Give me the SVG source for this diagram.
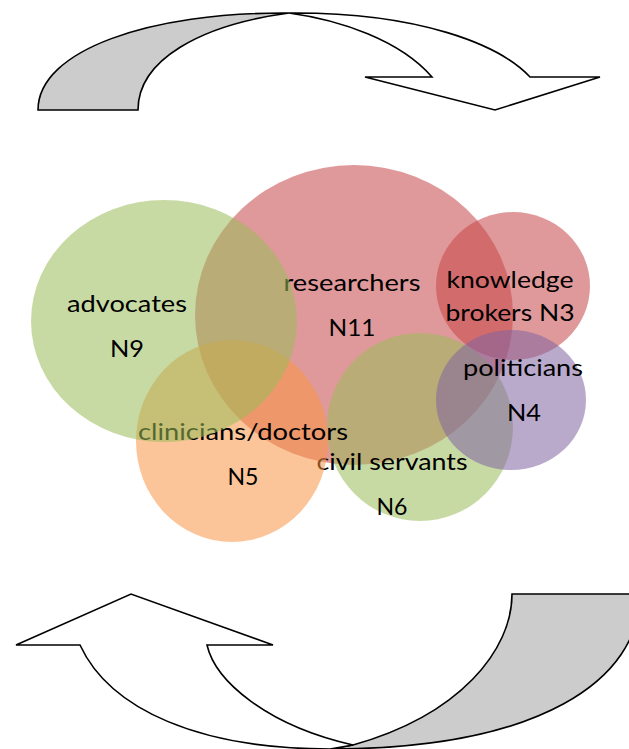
<svg xmlns="http://www.w3.org/2000/svg" width="629" height="749" viewBox="0 0 629 749">
<style>
.arr{stroke:#000;stroke-width:1.6;stroke-linejoin:miter}
.back{fill:#cccccc}
.front{fill:#ffffff}
.c{opacity:0.55}
.red{fill:#c74647}
.grn{fill:#9bbb59}
.org{fill:#f79646}
.pur{fill:#8064a2}
.t{font-family:Lato,"Liberation Sans",sans-serif;font-size:23px;fill:#000;text-anchor:middle}
</style>
<rect width="629" height="749" fill="#fff"/>
<g id="connectors">
  <g id="arrow-top">
    <path class="arr back" d="M38,110 C38,50 150,12 289,13 C200,25 138,60 138,110 Z"/>
    <path class="arr front" d="M289,13 C420,12 500,45 530,77 L600,77 L495,110 L365,77 L432,77 C400,40 340,20 289,13 Z"/>
  </g>
  <g id="arrow-bottom">
    <path class="arr back" d="M512,594 L640,594 C640,680 540,749 330,749 L353,745 C460,715 512,650 512,594 Z"/>
    <path class="arr front" d="M330,749 C200,749 110,710 80,645 L16,645 L131,594 L273,645 L207,645 C215,680 265,725 353,745 Z"/>
  </g>
</g>
<g id="researchers">
  <ellipse class="c red" cx="354" cy="315" rx="159" ry="150"/>
  <text class="t" x="352" y="291" textLength="137" lengthAdjust="spacingAndGlyphs">researchers</text>
  <text class="t" x="352" y="336" textLength="47" lengthAdjust="spacingAndGlyphs">N11</text>
</g>
<g id="knowledge-brokers">
  <ellipse class="c red" cx="513" cy="286" rx="77" ry="74"/>
  <text class="t" x="510" y="288" textLength="127" lengthAdjust="spacingAndGlyphs">knowledge</text>
  <text class="t" x="510" y="321" textLength="129" lengthAdjust="spacingAndGlyphs">brokers N3</text>
</g>
<g id="civil-servants">
  <ellipse class="c grn" cx="420" cy="427" rx="93" ry="94"/>
  <text class="t" x="392" y="470" textLength="151" lengthAdjust="spacingAndGlyphs">civil servants</text>
  <text class="t" x="392" y="515" textLength="31" lengthAdjust="spacingAndGlyphs">N6</text>
</g>
<g id="politicians">
  <ellipse class="c pur" cx="511" cy="400" rx="75" ry="70"/>
  <text class="t" x="523" y="376" textLength="120" lengthAdjust="spacingAndGlyphs">politicians</text>
  <text class="t" x="524" y="421" textLength="34" lengthAdjust="spacingAndGlyphs">N4</text>
</g>
<g id="clinicians-doctors">
  <ellipse class="c org" cx="232" cy="441" rx="96" ry="101"/>
  <text class="t" x="243" y="440" textLength="210" lengthAdjust="spacingAndGlyphs">clinicians/doctors</text>
  <text class="t" x="243" y="485" textLength="31" lengthAdjust="spacingAndGlyphs">N5</text>
</g>
<g id="advocates">
  <ellipse class="c grn" cx="164" cy="321" rx="133" ry="121"/>
  <text class="t" x="127" y="312" textLength="120" lengthAdjust="spacingAndGlyphs">advocates</text>
  <text class="t" x="127" y="357" textLength="34" lengthAdjust="spacingAndGlyphs">N9</text>
</g>
</svg>
